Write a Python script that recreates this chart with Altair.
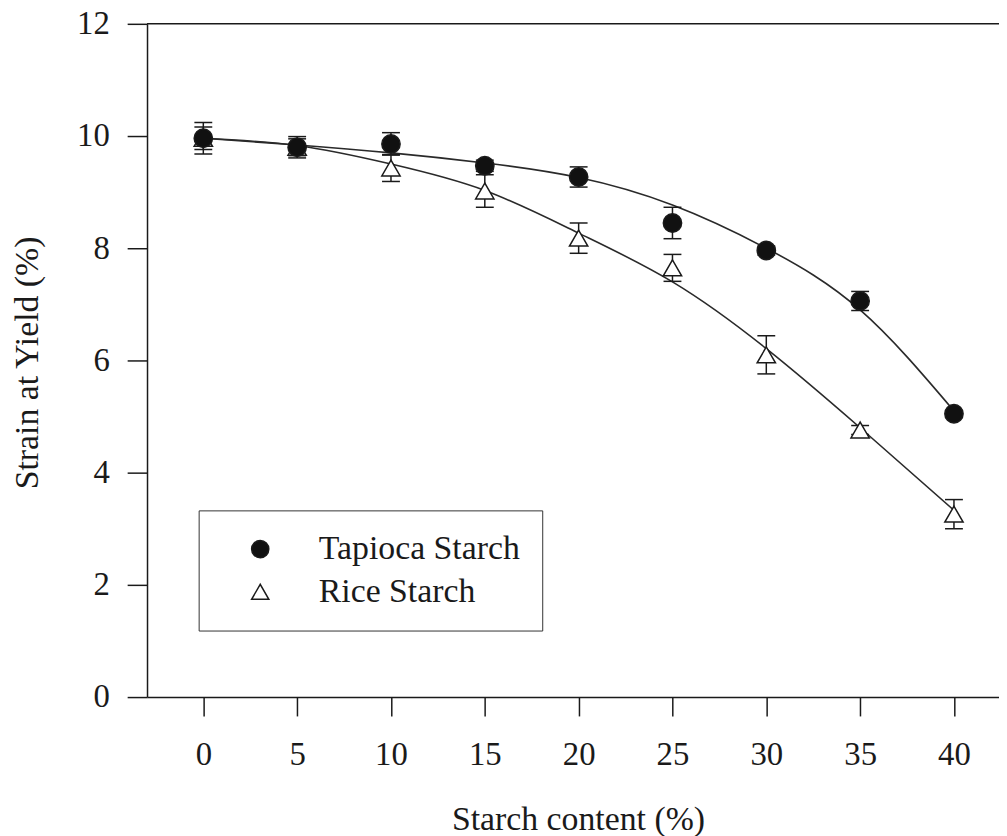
import altair as alt
import pandas as pd

# ---- data ----
starch_content = [0, 5, 10, 15, 20, 25, 30, 35, 40]

tapioca_mean = [9.96, 9.80, 9.86, 9.47, 9.27, 8.45, 7.96, 7.06, 5.05]
tapioca_err = [0.28, 0.19, 0.20, 0.10, 0.18, 0.28, 0.08, 0.17, 0.05]
tapioca_fit = [9.96, 9.84, 9.70, 9.52, 9.26, 8.77, 8.00, 6.90, 5.10]

rice_mean = [9.96, 9.80, 9.43, 9.02, 8.18, 7.65, 6.10, 4.76, 3.26]
rice_err = [0.20, 0.15, 0.24, 0.29, 0.27, 0.24, 0.34, 0.08, 0.26]
rice_fit = [9.96, 9.83, 9.50, 9.03, 8.27, 7.40, 6.21, 4.80, 3.33]

series_names = ["Tapioca Starch", "Rice Starch"]
x_ticks = [0, 5, 10, 15, 20, 25, 30, 35, 40]
y_ticks = [0, 2, 4, 6, 8, 10, 12]

rows = []
for name, means, errs, fits in [
    ("Rice Starch", rice_mean, rice_err, rice_fit),
    ("Tapioca Starch", tapioca_mean, tapioca_err, tapioca_fit),
]:
    for x, m, e, f in zip(starch_content, means, errs, fits):
        rows.append(dict(series=name, x=x, mean=m, lo=round(m - e, 3), hi=round(m + e, 3), fit=f))
df = pd.DataFrame(rows)

FONT = "Liberation Serif, Times New Roman, Times, serif"
INK = "#1a1a1a"
W, H = 858, 678
XT = "Starch content (%)"
YT = "Strain at Yield (%)"

xscale = alt.Scale(domain=[-3, 42.4], nice=False, zero=False)
yscale = alt.Scale(domain=[0, 12], nice=False, zero=False)
xax = alt.Axis(values=x_ticks)
yax = alt.Axis(values=y_ticks)

base = alt.Chart(df)

lines = base.mark_line(interpolate="natural", color="#2a2a2a", strokeWidth=1.6).encode(
    x=alt.X("x:Q", scale=xscale, axis=xax, title=XT),
    y=alt.Y("fit:Q", scale=yscale, axis=yax, title=YT),
    detail="series:N",
)

bars = base.mark_rule(color=INK, strokeWidth=1.5).encode(
    x=alt.X("x:Q", scale=xscale, axis=xax, title=XT),
    y=alt.Y("lo:Q", scale=yscale, axis=yax, title=YT),
    y2="hi:Q",
)

cap_lo = base.mark_tick(orient="horizontal", size=18, thickness=1.5, color=INK, opacity=1).encode(
    x=alt.X("x:Q", scale=xscale, axis=xax, title=XT),
    y=alt.Y("lo:Q", scale=yscale, axis=yax, title=YT),
)
cap_hi = base.mark_tick(orient="horizontal", size=18, thickness=1.5, color=INK, opacity=1).encode(
    x=alt.X("x:Q", scale=xscale, axis=xax, title=XT),
    y=alt.Y("hi:Q", scale=yscale, axis=yax, title=YT),
)

leg = alt.Legend(title=None, orient="none", legendX=52, legendY=490, direction="vertical")

points = base.mark_point(size=340, opacity=1, strokeWidth=1.5).encode(
    x=alt.X("x:Q", scale=xscale, axis=xax, title=XT),
    y=alt.Y("mean:Q", scale=yscale, axis=yax, title=YT),
    fill=alt.Fill("series:N", scale=alt.Scale(domain=series_names, range=["#111111", "white"]), legend=leg),
    stroke=alt.Stroke("series:N", scale=alt.Scale(domain=series_names, range=[INK, INK]), legend=leg),
    shape=alt.Shape("series:N", scale=alt.Scale(domain=series_names, range=["circle", "triangle-up"]), legend=leg),
)

top_line = alt.Chart(alt.Data(values=[{}])).mark_rule(color=INK, strokeWidth=1.5).encode(
    y=alt.datum(12, scale=yscale, axis=yax, title=YT)
)

chart = (
    alt.layer(top_line, lines, bars, cap_lo, cap_hi, points)
    .properties(
        width=W,
        height=H,
        autosize=alt.AutoSizeParams(type="none"),
        padding={"left": 140, "top": 13, "right": 0, "bottom": 140},
    )
    .configure_view(stroke=None)
    .configure_axis(
        grid=False,
        domainColor=INK,
        domainWidth=1.5,
        tickColor=INK,
        tickWidth=1.5,
        labelFont=FONT,
        titleFont=FONT,
        labelColor=INK,
        titleColor=INK,
        labelFontSize=33,
        titleFontSize=34,
        titleFontWeight="normal",
        labelFlush=False,
        labelOverlap=False,
    )
    .configure_axisX(
        tickSize=19,
        labelPadding=49,
        labelBaseline="alphabetic",
        titleX=434,
        titleY=133,
        titleBaseline="alphabetic",
    )
    .configure_axisY(
        tickSize=20,
        labelPadding=18,
        titleX=-110,
        titleY=341,
        titleBaseline="alphabetic",
    )
    .configure_legend(
        labelFont=FONT,
        labelFontSize=34,
        labelColor=INK,
        symbolSize=300,
        symbolStrokeColor=INK,
        symbolStrokeWidth=1.5,
        padding=22,
        rowPadding=9,
        symbolOffset=23,
        labelOffset=42,
        strokeColor="#333333",
        fillColor="white",
        cornerRadius=0,
        labelLimit=400,
    )
)

chart.save("out.html", embed_options={"renderer": "svg", "actions": False})
